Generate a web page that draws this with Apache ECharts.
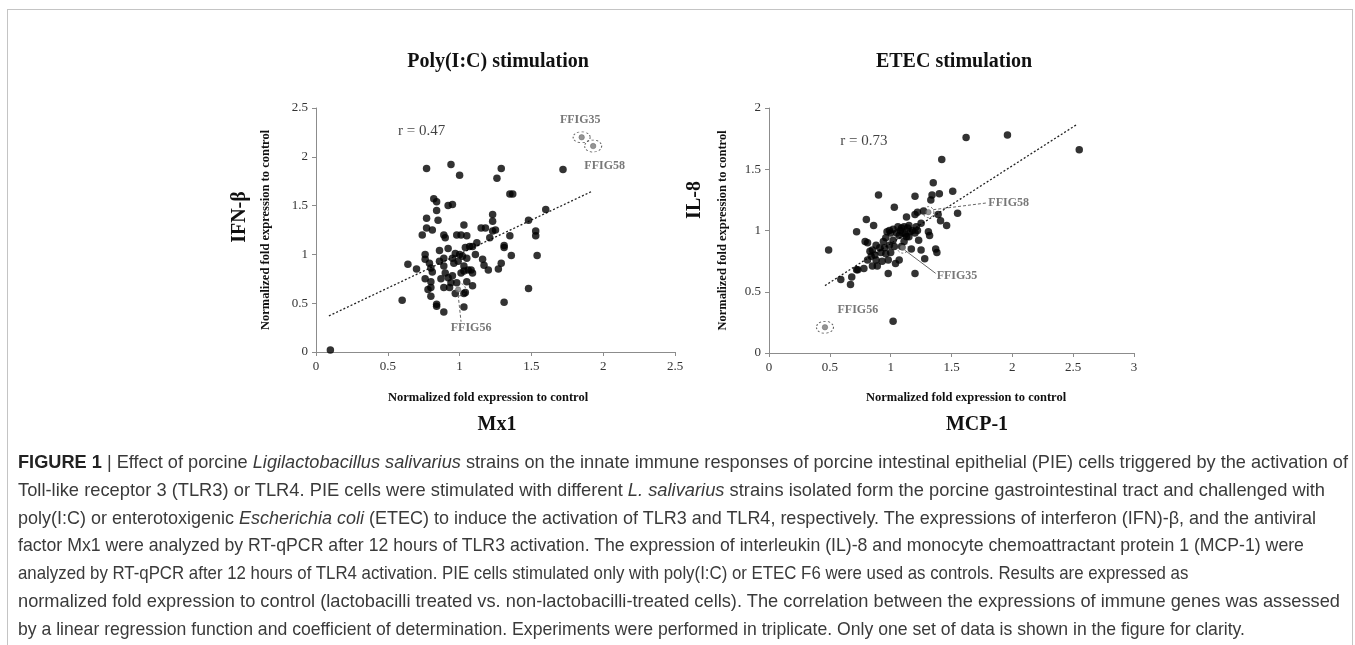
<!DOCTYPE html>
<html>
<head>
<meta charset="utf-8">
<script src="https://cdn.jsdelivr.net/npm/echarts@6.0.0/dist/echarts.min.js"></script>
<style>
  html, body { margin: 0; padding: 0; background: #fff; }
  body { width: 1355px; height: 645px; position: relative; overflow: hidden; }
  #frame { position: absolute; left: 7px; top: 9px; width: 1344px; height: 800px; border: 1px solid #c4c4c4; }
  #chart { position: absolute; left: 0; top: 0; width: 1355px; height: 450px; }
  #caption {
    position: absolute; left: 18px; top: 449px; width: 1340px;
    font-family: 'Liberation Sans', Arial, sans-serif; font-size: 18.1px; line-height: 27.8px;
    color: #3a3a3a; white-space: nowrap;
  }
  #caption span { display: inline-block; transform-origin: 0 50%; }
  #caption b { color: #222; }
</style>
</head>
<body>
<div id="frame"></div>
<div id="chart"></div>
<div id="caption">
  <span><b>FIGURE 1</b> | Effect of porcine <i>Ligilactobacillus salivarius</i> strains on the innate immune responses of porcine intestinal epithelial (PIE) cells triggered by the activation of</span><br>
  <span>Toll-like receptor 3 (TLR3) or TLR4. PIE cells were stimulated with different <i>L. salivarius</i> strains isolated form the porcine gastrointestinal tract and challenged with</span><br>
  <span>poly(I:C) or enterotoxigenic <i>Escherichia coli</i> (ETEC) to induce the activation of TLR3 and TLR4, respectively. The expressions of interferon (IFN)-β, and the antiviral</span><br>
  <span>factor Mx1 were analyzed by RT-qPCR after 12 hours of TLR3 activation. The expression of interleukin (IL)-8 and monocyte chemoattractant protein 1 (MCP-1) were</span><br>
  <span>analyzed by RT-qPCR after 12 hours of TLR4 activation. PIE cells stimulated only with poly(I:C) or ETEC F6 were used as controls. Results are expressed as</span><br>
  <span>normalized fold expression to control (lactobacilli treated vs. non-lactobacilli-treated cells). The correlation between the expressions of immune genes was assessed</span><br>
  <span>by a linear regression function and coefficient of determination. Experiments were performed in triplicate. Only one set of data is shown in the figure for clarity.</span>
</div>
<script>
// Poly(I:C) stimulation: Mx1 (x) vs IFN-β (y)
const polyMx1 = [
  0.10, 0.60, 0.64, 0.70, 0.74, 0.77, 0.77, 0.77, 0.81, 0.82, 0.84, 0.84, 0.85, 0.76, 0.76, 0.79, 0.80,
  0.81, 0.76, 0.80, 0.78, 0.80, 0.80, 0.84, 0.84, 0.89, 0.86, 0.86, 0.89, 0.90, 0.92, 0.94, 0.92, 0.95,
  1.00, 0.89, 0.89, 0.90, 0.87, 0.89, 0.92, 0.94, 0.95, 0.95, 0.97, 0.98, 1.01, 1.03, 1.00, 1.02, 0.99,
  1.03, 1.01, 1.03, 1.05, 1.04, 1.07, 1.06, 1.05, 1.09, 1.08, 1.11, 1.09, 1.03, 1.04, 1.03, 0.98, 0.97,
  1.12, 1.15, 1.18, 1.16, 1.17, 1.20, 1.21, 1.23, 1.23, 1.23, 1.25, 1.26, 1.29, 1.27, 1.29, 1.31, 1.31,
  1.31, 1.35, 1.36, 1.35, 1.37, 1.48, 1.48, 1.53, 1.53, 1.54, 1.60, 1.72, 0.96, 1.05, 0.93, 1.09
];
const polyIFNb = [
  0.02, 0.53, 0.90, 0.85, 1.20, 1.88, 1.37, 1.27, 1.25, 1.57, 1.54, 1.45, 1.35, 1.00, 0.95, 0.91, 0.86,
  0.82, 0.75, 0.72, 0.64, 0.66, 0.57, 0.49, 0.47, 0.41, 1.04, 0.93, 1.20, 1.17, 1.06, 1.92, 1.50, 1.51,
  1.81, 0.96, 0.88, 0.81, 0.75, 0.66, 0.76, 0.71, 0.78, 0.96, 1.01, 1.20, 1.20, 1.30, 1.00, 0.98, 0.93,
  0.88, 0.81, 0.83, 1.19, 1.07, 1.08, 0.84, 0.72, 0.81, 0.84, 1.00, 0.68, 0.60, 0.61, 0.46, 0.71, 0.60,
  1.12, 1.27, 1.27, 0.95, 0.89, 0.84, 1.17, 1.41, 1.34, 1.24, 1.25, 1.78, 1.88, 0.85, 0.91, 1.09, 1.07,
  0.51, 1.19, 0.99, 1.62, 1.62, 1.35, 0.65, 1.24, 1.19, 0.99, 1.46, 1.87, 0.91, 0.96, 0.66, 1.08
];
const polyStrains = ['FFIG35', 'FFIG58', 'FFIG56'];
const polyStrainMx1 = [1.85, 1.93, 0.99];
const polyStrainIFNb = [2.20, 2.11, 0.64];
const polyTrend = [[0.09, 0.37], [1.92, 1.645]];
const polyR = 'r = 0.47';

// ETEC stimulation: MCP-1 (x) vs IL-8 (y)
const etecMCP1 = [
  0.49, 0.59, 0.67, 0.68, 0.72, 0.73, 0.72, 0.78, 0.80, 0.79, 0.81, 0.81, 0.84, 0.86, 0.85, 0.85, 0.88,
  0.89, 0.90, 0.93, 0.94, 0.98, 0.98, 0.99, 1.00, 1.02, 1.03, 1.04, 1.06, 1.07, 1.09, 1.10, 1.13, 1.14,
  1.16, 1.17, 1.20, 1.20, 1.20, 1.21, 1.23, 1.22, 1.25, 1.25, 1.28, 1.27, 1.31, 1.32, 1.33, 1.34, 1.35,
  1.37, 1.38, 1.39, 1.40, 1.41, 1.42, 1.46, 1.51, 1.55, 1.62, 1.96, 2.55, 0.91, 0.92, 0.95, 0.96, 0.99,
  1.02, 1.03, 1.05, 1.07, 1.11, 1.13, 1.15, 1.18, 1.20, 1.09, 0.87, 0.83, 0.88, 0.96, 1.00, 1.11, 1.02,
  1.08, 1.12, 1.15, 1.22, 0.97
];
const etecIL8 = [
  0.84, 0.60, 0.56, 0.62, 0.68, 0.68, 0.99, 0.69, 1.09, 0.91, 0.90, 0.76, 0.79, 1.04, 0.84, 0.71, 0.88,
  0.71, 1.29, 0.75, 0.91, 0.65, 0.76, 1.00, 0.98, 0.26, 1.19, 0.73, 1.03, 0.76, 1.02, 0.98, 1.11, 1.02,
  0.99, 0.85, 1.28, 0.65, 1.13, 1.03, 0.92, 1.15, 0.84, 1.06, 0.77, 1.16, 0.99, 0.96, 1.25, 1.29, 1.39,
  0.85, 0.82, 1.13, 1.30, 1.08, 1.58, 1.04, 1.32, 1.14, 1.76, 1.78, 1.66, 0.86, 0.82, 0.86, 0.81, 0.88,
  0.92, 0.87, 0.98, 0.96, 1.03, 0.95, 0.95, 1.00, 0.98, 0.87, 0.80, 0.83, 0.76, 0.94, 0.82, 0.91, 1.01,
  1.00, 0.97, 1.04, 1.00, 0.99
];
const etecStrains = ['FFIG58', 'FFIG35', 'FFIG56'];
const etecStrainMCP1 = [1.31, 1.10, 0.46];
const etecStrainIL8 = [1.15, 0.86, 0.21];
const etecTrend = [[0.46, 0.55], [2.53, 1.865]];
const etecR = 'r = 0.73';

const xTicks0 = [0, 0.5, 1, 1.5, 2, 2.5];
const yTicks0 = [0, 0.5, 1, 1.5, 2, 2.5];
const xTicks1 = [0, 0.5, 1, 1.5, 2, 2.5, 3];
const yTicks1 = [0, 0.5, 1, 1.5, 2];

const serif = "'Liberation Serif', 'Times New Roman', serif";
const axisGray = '#8c8c8c';
const labelGray = '#555';

// caption lines end roughly at these x positions in the printed figure
const captionLineEnds = [1348, 1325, 1316, 1304, 1105, 1340, 1245];
document.querySelectorAll('#caption span').forEach((el, i) => {
  const w = el.getBoundingClientRect().width;
  const k = Math.min(1.03, Math.max(0.93, (captionLineEnds[i] - 18) / w));
  el.style.transform = 'scaleX(' + k.toFixed(4) + ')';
});

const zip = (a, b) => a.map((v, i) => [v, b[i]]);

function axisStyle(ticks) {
  return {
    type: 'value',
    min: ticks[0],
    max: ticks[ticks.length - 1],
    interval: 0.5,
    splitLine: { show: false },
    axisLine: { show: true, lineStyle: { color: axisGray, width: 1 } },
    axisTick: { show: true, length: 4, lineStyle: { color: axisGray } },
    axisLabel: { fontFamily: serif, fontSize: 13, color: '#333', margin: 8 },
  };
}

function scatterBlack(i, data) {
  return {
    type: 'scatter', xAxisIndex: i, yAxisIndex: i, data,
    symbolSize: 7.5, itemStyle: { color: '#000' }, silent: true, z: 3,
  };
}

function trend(i, data) {
  return {
    type: 'line', xAxisIndex: i, yAxisIndex: i, data, showSymbol: false, symbol: 'none',
    lineStyle: { color: '#222', width: 1.3, type: [2, 2] }, silent: true, z: 2,
  };
}

function highlighted(i, data, sizes) {
  return [
    {
      type: 'scatter', xAxisIndex: i, yAxisIndex: i, data, symbolSize: 5.5,
      itemStyle: { color: '#7a7a7a', borderColor: '#555', borderWidth: 0.5 }, silent: true, z: 4,
    },
    {
      type: 'scatter', xAxisIndex: i, yAxisIndex: i,
      data: data.map((d, k) => ({ value: d, symbolSize: sizes[k] })),
      itemStyle: { color: 'rgba(0,0,0,0)', borderColor: '#333', borderWidth: 0.9, borderType: [2, 2] },
      silent: true, z: 4,
    },
  ];
}

function notes(i, items) {
  return {
    type: 'scatter', xAxisIndex: i, yAxisIndex: i, symbolSize: 0, silent: true, z: 5,
    data: items.map((t) => ({
      value: t.at, name: t.text,
      label: {
        show: true, position: 'inside', formatter: '{b}', fontFamily: serif,
        fontSize: t.r ? 15 : 12, fontWeight: t.r ? 'normal' : 'bold', color: t.r ? '#111' : labelGray,
      },
    })),
  };
}

function leaders(i, segs, dashed) {
  return {
    type: 'lines', coordinateSystem: 'cartesian2d', xAxisIndex: i, yAxisIndex: i, silent: true, z: 4,
    polyline: false, data: segs.map((c) => ({ coords: c })),
    lineStyle: { color: '#555', width: 0.9, type: dashed ? [3, 2] : 'solid', opacity: 1 },
  };
}

function text(x, y, str, size, rot) {
  return {
    type: 'text', x, y, rotation: rot ? Math.PI / 2 : 0, silent: true,
    style: {
      text: str, fontFamily: serif, fontSize: size, fontWeight: 'bold', fill: '#111',
      align: 'center', verticalAlign: 'middle',
    },
  };
}

const chart = echarts.init(document.getElementById('chart'));
const polyHi = zip(polyStrainMx1, polyStrainIFNb);
const etecHi = zip(etecStrainMCP1, etecStrainIL8);

chart.setOption({
  animation: false,
  grid: [
    { left: 316, top: 108, width: 359, height: 244 },
    { left: 769, top: 108, width: 365, height: 245 },
  ],
  xAxis: [
    Object.assign(axisStyle(xTicks0), { gridIndex: 0 }),
    Object.assign(axisStyle(xTicks1), { gridIndex: 1 }),
  ],
  yAxis: [
    Object.assign(axisStyle(yTicks0), {
      gridIndex: 0, name: 'Normalized fold expression to control', nameLocation: 'middle', nameGap: 44,
      nameTextStyle: { fontFamily: serif, fontSize: 12.5, fontWeight: 'bold', color: '#111' },
    }),
    Object.assign(axisStyle(yTicks1), {
      gridIndex: 1, name: 'Normalized fold expression to control', nameLocation: 'middle', nameGap: 40,
      nameTextStyle: { fontFamily: serif, fontSize: 12.5, fontWeight: 'bold', color: '#111' },
    }),
  ],
  graphic: [
    text(498, 62, 'Poly(I:C) stimulation', 20),
    text(954, 62, 'ETEC stimulation', 20),
    text(240, 217, 'IFN-β', 20, true),
    text(695, 200, 'IL-8', 20, true),
    text(488, 398, 'Normalized fold expression to control', 12.5),
    text(966, 398, 'Normalized fold expression to control', 12.5),
    text(497, 425, 'Mx1', 20),
    text(977, 425, 'MCP-1', 20),
  ],
  series: [
    trend(0, polyTrend),
    scatterBlack(0, zip(polyMx1, polyIFNb)),
    ...highlighted(0, polyHi, [[17, 11], [17, 12], [15, 13]]),
    leaders(0, [[[0.99, 0.585], [1.01, 0.31]]], true),
    notes(0, [
      { at: [0.735, 2.26], text: polyR, r: true },
      { at: [1.84, 2.38], text: polyStrains[0] },
      { at: [2.01, 1.91], text: polyStrains[1] },
      { at: [1.08, 0.25], text: polyStrains[2] },
    ]),
    trend(1, etecTrend),
    scatterBlack(1, zip(etecMCP1, etecIL8)),
    ...highlighted(1, etecHi, [[11, 11], [11, 11], [17, 12]]),
    leaders(1, [[[1.35, 1.17], [1.79, 1.225]]], true),
    leaders(1, [[[1.115, 0.84], [1.37, 0.65]]], false),
    notes(1, [
      { at: [0.78, 1.73], text: etecR, r: true },
      { at: [1.97, 1.227], text: etecStrains[0] },
      { at: [1.545, 0.63], text: etecStrains[1] },
      { at: [0.73, 0.353], text: etecStrains[2] },
    ]),
  ],
});
</script>
</body>
</html>
